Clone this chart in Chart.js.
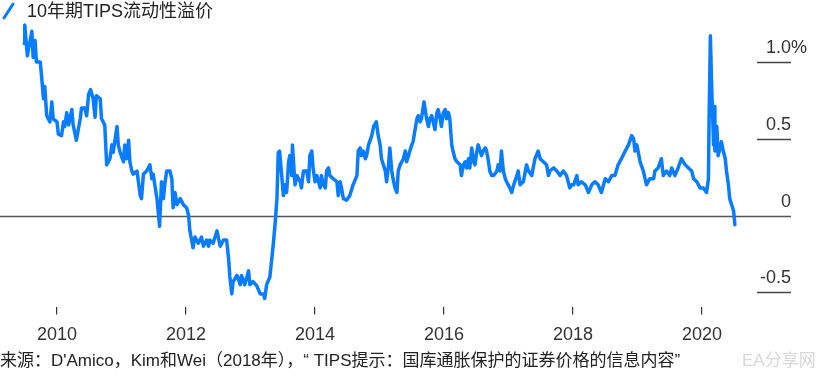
<!DOCTYPE html>
<html>
<head>
<meta charset="utf-8">
<script src="https://cdn.jsdelivr.net/npm/chart.js@4.4.1/dist/chart.umd.min.js"></script>
<style>
  body { margin: 0; background: #fff; }
  #wrap { position: relative; width: 830px; height: 377px; font-family: "Liberation Sans", "Noto Sans CJK SC", sans-serif; }
  #wrap canvas { position: absolute; left: 0; top: 0; }
  .title { position: absolute; left: 2px; top: 0; font-size: 18px; color: #222; line-height: 22px; white-space: nowrap; }
  .title svg { vertical-align: top; margin-right: 6px; }
  .source { position: absolute; left: 0; top: 350px; font-size: 17px; color: #222; line-height: 22px; white-space: nowrap; }
  .mark { position: absolute; left: 742px; top: 350px; font-size: 17px; color: #d8d8d8; line-height: 22px; }
</style>
</head>
<body>
<div id="wrap">
  <canvas id="chart" width="830" height="377"></canvas>
  <div class="title"><svg width="19" height="22"><line x1="2" y1="18" x2="11" y2="4" stroke="#0a7cff" stroke-width="3" stroke-linecap="round"/></svg>10年期TIPS流动性溢价</div>
  <div class="source">来源：D'Amico，Kim和Wei（2018年），“ TIPS提示：国库通胀保护的证券价格的信息内容”</div>
  <div class="mark">EA分享网</div>
</div>
<script>
// 10-year TIPS liquidity premium, %
var years = [
  2009.49, 2009.50, 2009.54, 2009.61, 2009.63, 2009.66, 2009.68, 2009.74, 2009.76, 2009.79,
  2009.81, 2009.84, 2009.89, 2009.92, 2009.94, 2010.00, 2010.02, 2010.07, 2010.10, 2010.12,
  2010.15, 2010.18, 2010.23, 2010.25, 2010.30, 2010.36, 2010.38, 2010.43, 2010.46, 2010.49,
  2010.52, 2010.56, 2010.59, 2010.61, 2010.67, 2010.69, 2010.74, 2010.77, 2010.82, 2010.85,
  2010.87, 2010.93, 2010.95, 2010.98, 2011.03, 2011.05, 2011.08, 2011.11, 2011.13, 2011.16,
  2011.18, 2011.24, 2011.29, 2011.31, 2011.34, 2011.39, 2011.44, 2011.47, 2011.49, 2011.55,
  2011.59, 2011.62, 2011.65, 2011.67, 2011.70, 2011.75, 2011.78, 2011.80, 2011.83, 2011.86,
  2011.91, 2011.96, 2012.01, 2012.04, 2012.06, 2012.11, 2012.14, 2012.19, 2012.24, 2012.27,
  2012.32, 2012.35, 2012.37, 2012.42, 2012.48, 2012.53, 2012.58, 2012.63, 2012.66, 2012.68,
  2012.71, 2012.73, 2012.79, 2012.84, 2012.86, 2012.91, 2012.97, 2012.99, 2013.04, 2013.10,
  2013.15, 2013.20, 2013.22, 2013.25, 2013.30, 2013.35, 2013.38, 2013.41, 2013.43, 2013.45,
  2013.48, 2013.51, 2013.54, 2013.56, 2013.59, 2013.61, 2013.64, 2013.65, 2013.67, 2013.69,
  2013.72, 2013.77, 2013.79, 2013.82, 2013.87, 2013.90, 2013.92, 2013.95, 2013.97, 2014.00,
  2014.03, 2014.08, 2014.10, 2014.13, 2014.16, 2014.18, 2014.21, 2014.23, 2014.28, 2014.34,
  2014.36, 2014.39, 2014.41, 2014.44, 2014.49, 2014.54, 2014.59, 2014.65, 2014.67, 2014.70,
  2014.72, 2014.75, 2014.78, 2014.80, 2014.83, 2014.88, 2014.91, 2014.95, 2014.98, 2015.01,
  2015.03, 2015.06, 2015.09, 2015.11, 2015.14, 2015.16, 2015.19, 2015.21, 2015.24, 2015.27,
  2015.29, 2015.32, 2015.37, 2015.40, 2015.42, 2015.45, 2015.47, 2015.50, 2015.52, 2015.58,
  2015.60, 2015.63, 2015.65, 2015.69, 2015.73, 2015.76, 2015.78, 2015.81, 2015.86, 2015.89,
  2015.91, 2015.94, 2015.96, 2015.99, 2016.02, 2016.04, 2016.07, 2016.09, 2016.12, 2016.14,
  2016.17, 2016.20, 2016.25, 2016.27, 2016.30, 2016.33, 2016.35, 2016.38, 2016.40, 2016.43,
  2016.46, 2016.48, 2016.51, 2016.53, 2016.56, 2016.58, 2016.61, 2016.64, 2016.66, 2016.69,
  2016.71, 2016.74, 2016.77, 2016.82, 2016.84, 2016.87, 2016.89, 2016.92, 2016.95, 2016.97,
  2017.02, 2017.05, 2017.08, 2017.13, 2017.15, 2017.18, 2017.23, 2017.28, 2017.31, 2017.36,
  2017.41, 2017.46, 2017.49, 2017.54, 2017.59, 2017.62, 2017.64, 2017.70, 2017.75, 2017.80,
  2017.85, 2017.90, 2017.95, 2017.98, 2018.01, 2018.06, 2018.08, 2018.13, 2018.19, 2018.24,
  2018.29, 2018.34, 2018.39, 2018.44, 2018.50, 2018.55, 2018.60, 2018.65, 2018.70, 2018.75,
  2018.81, 2018.86, 2018.91, 2018.94, 2018.96, 2018.99, 2019.04, 2019.09, 2019.14, 2019.19,
  2019.25, 2019.27, 2019.32, 2019.37, 2019.40, 2019.45, 2019.50, 2019.53, 2019.58, 2019.63,
  2019.68, 2019.74, 2019.79, 2019.84, 2019.87, 2019.92, 2019.97, 2020.02, 2020.07, 2020.10,
  2020.11, 2020.13, 2020.15, 2020.18, 2020.19, 2020.20, 2020.23, 2020.25, 2020.28, 2020.30,
  2020.33, 2020.36, 2020.38, 2020.41, 2020.43, 2020.46, 2020.49, 2020.51
];
var premium = [
  1.12, 1.24, 1.04, 1.20, 1.03, 1.14, 1.00, 1.00, 0.91, 0.76,
  0.84, 0.65, 0.61, 0.74, 0.63, 0.61, 0.53, 0.52, 0.61, 0.58,
  0.67, 0.59, 0.69, 0.59, 0.49, 0.63, 0.70, 0.70, 0.65, 0.79,
  0.82, 0.76, 0.64, 0.78, 0.76, 0.63, 0.59, 0.33, 0.37, 0.46,
  0.41, 0.58, 0.46, 0.41, 0.35, 0.46, 0.37, 0.49, 0.35, 0.29,
  0.27, 0.29, 0.13, 0.11, 0.27, 0.29, 0.33, 0.24, 0.27, 0.11,
  -0.07, 0.22, 0.11, 0.20, 0.29, 0.29, 0.24, 0.05, 0.15, 0.07,
  0.11, 0.07, 0.05, 0.00, -0.10, -0.21, -0.14, -0.18, -0.14, -0.20,
  -0.16, -0.20, -0.16, -0.18, -0.10, -0.20, -0.16, -0.16, -0.28, -0.40,
  -0.51, -0.43, -0.39, -0.45, -0.39, -0.45, -0.36, -0.45, -0.43, -0.46,
  -0.51, -0.51, -0.54, -0.45, -0.40, -0.20, -0.06, 0.11, 0.41, 0.42,
  0.28, 0.13, 0.20, 0.15, 0.35, 0.39, 0.26, 0.46, 0.33, 0.20,
  0.26, 0.22, 0.18, 0.29, 0.29, 0.22, 0.39, 0.42, 0.31, 0.22,
  0.26, 0.18, 0.26, 0.20, 0.18, 0.29, 0.31, 0.26, 0.24, 0.22,
  0.13, 0.22, 0.18, 0.11, 0.10, 0.13, 0.20, 0.26, 0.42, 0.44,
  0.39, 0.42, 0.37, 0.39, 0.46, 0.52, 0.58, 0.61, 0.52, 0.46,
  0.37, 0.33, 0.29, 0.22, 0.33, 0.44, 0.29, 0.24, 0.18, 0.15,
  0.29, 0.33, 0.37, 0.42, 0.35, 0.39, 0.42, 0.46, 0.48, 0.63,
  0.65, 0.61, 0.63, 0.74, 0.63, 0.58, 0.63, 0.65, 0.56, 0.67,
  0.69, 0.63, 0.58, 0.67, 0.69, 0.63, 0.67, 0.63, 0.46, 0.42,
  0.37, 0.35, 0.33, 0.26, 0.33, 0.35, 0.31, 0.37, 0.31, 0.44,
  0.35, 0.33, 0.42, 0.46, 0.42, 0.39, 0.42, 0.44, 0.42, 0.35,
  0.29, 0.26, 0.26, 0.29, 0.33, 0.29, 0.42, 0.29, 0.24, 0.22,
  0.18, 0.15, 0.20, 0.26, 0.29, 0.20, 0.22, 0.33, 0.29, 0.26,
  0.37, 0.42, 0.37, 0.35, 0.33, 0.26, 0.29, 0.31, 0.29, 0.26,
  0.29, 0.26, 0.18, 0.20, 0.20, 0.26, 0.20, 0.22, 0.20, 0.15,
  0.20, 0.22, 0.20, 0.15, 0.24, 0.22, 0.26, 0.26, 0.33, 0.37,
  0.42, 0.46, 0.52, 0.50, 0.42, 0.46, 0.35, 0.29, 0.20, 0.24,
  0.24, 0.29, 0.31, 0.37, 0.26, 0.29, 0.26, 0.31, 0.26, 0.31,
  0.37, 0.33, 0.31, 0.29, 0.24, 0.22, 0.18, 0.18, 0.15, 0.24,
  0.63, 1.17, 0.84, 0.46, 0.71, 0.42, 0.58, 0.39, 0.44, 0.48,
  0.42, 0.37, 0.29, 0.20, 0.11, 0.07, 0.03, -0.06
];
var yearTicks = [2010, 2012, 2014, 2016, 2018, 2020];
var yTickValues = [1.0, 0.5, 0, -0.5];
var yTickLabels = ["1.0%", "0.5", "0", "-0.5"];

var points = years.map(function (x, i) { return { x: x, y: premium[i] }; });

// zero line across the plot, short grid marks and labels on the right
var rightAxis = {
  id: "rightAxis",
  beforeDatasetsDraw: function (chart) {
    var c = chart.ctx, y = chart.scales.y, area = chart.chartArea;
    c.save();
    c.lineWidth = 1.5;
    yTickValues.forEach(function (v, i) {
      var py = Math.round(y.getPixelForValue(v)) + 0.5;
      c.strokeStyle = v === 0 ? "#555" : "#444";
      c.beginPath();
      c.moveTo(v === 0 ? area.left : 757, py);
      c.lineTo(791, py);
      c.stroke();
      c.fillStyle = "#333";
      c.font = "18px 'Liberation Sans', sans-serif";
      c.textBaseline = "alphabetic";
      var lbl = yTickLabels[i];
      if (lbl.slice(-1) === "%") {
        c.textAlign = "right";
        c.fillText(lbl.slice(0, -1), 791, py - 10);
        c.textAlign = "left";
        c.fillText("%", 791, py - 10);
      } else {
        c.textAlign = "right";
        c.fillText(lbl, 791, py - 10);
      }
    });
    c.restore();
  }
};

new Chart(document.getElementById("chart"), {
  type: "line",
  data: {
    datasets: [{
      label: "10年期TIPS流动性溢价",
      data: points,
      borderColor: "#0a7cff",
      borderWidth: 3.5,
      pointRadius: 0,
      tension: 0,
      borderJoinStyle: "round",
      borderCapStyle: "round"
    }]
  },
  options: {
    responsive: false,
    animation: false,
    layout: { padding: { top: 20, left: 0, right: 39, bottom: 21 } },
    plugins: { legend: { display: false }, tooltip: { enabled: false } },
    scales: {
      x: {
        type: "linear",
        min: 2009.116,
        max: 2021.38,
        afterBuildTicks: function (axis) {
          axis.ticks = yearTicks.map(function (v) { return { value: v }; });
        },
        grid: { drawOnChartArea: false, tickLength: 7, color: "#333", lineWidth: 1.2 },
        border: { display: false },
        ticks: {
          padding: 10,
          maxRotation: 0,
          color: "#333",
          font: { size: 18, family: "'Liberation Sans', sans-serif" },
          callback: function (v) { return String(v); }
        }
      },
      y: {
        display: false,
        min: -0.598,
        max: 1.273
      }
    }
  },
  plugins: [rightAxis]
});
</script>
</body>
</html>
